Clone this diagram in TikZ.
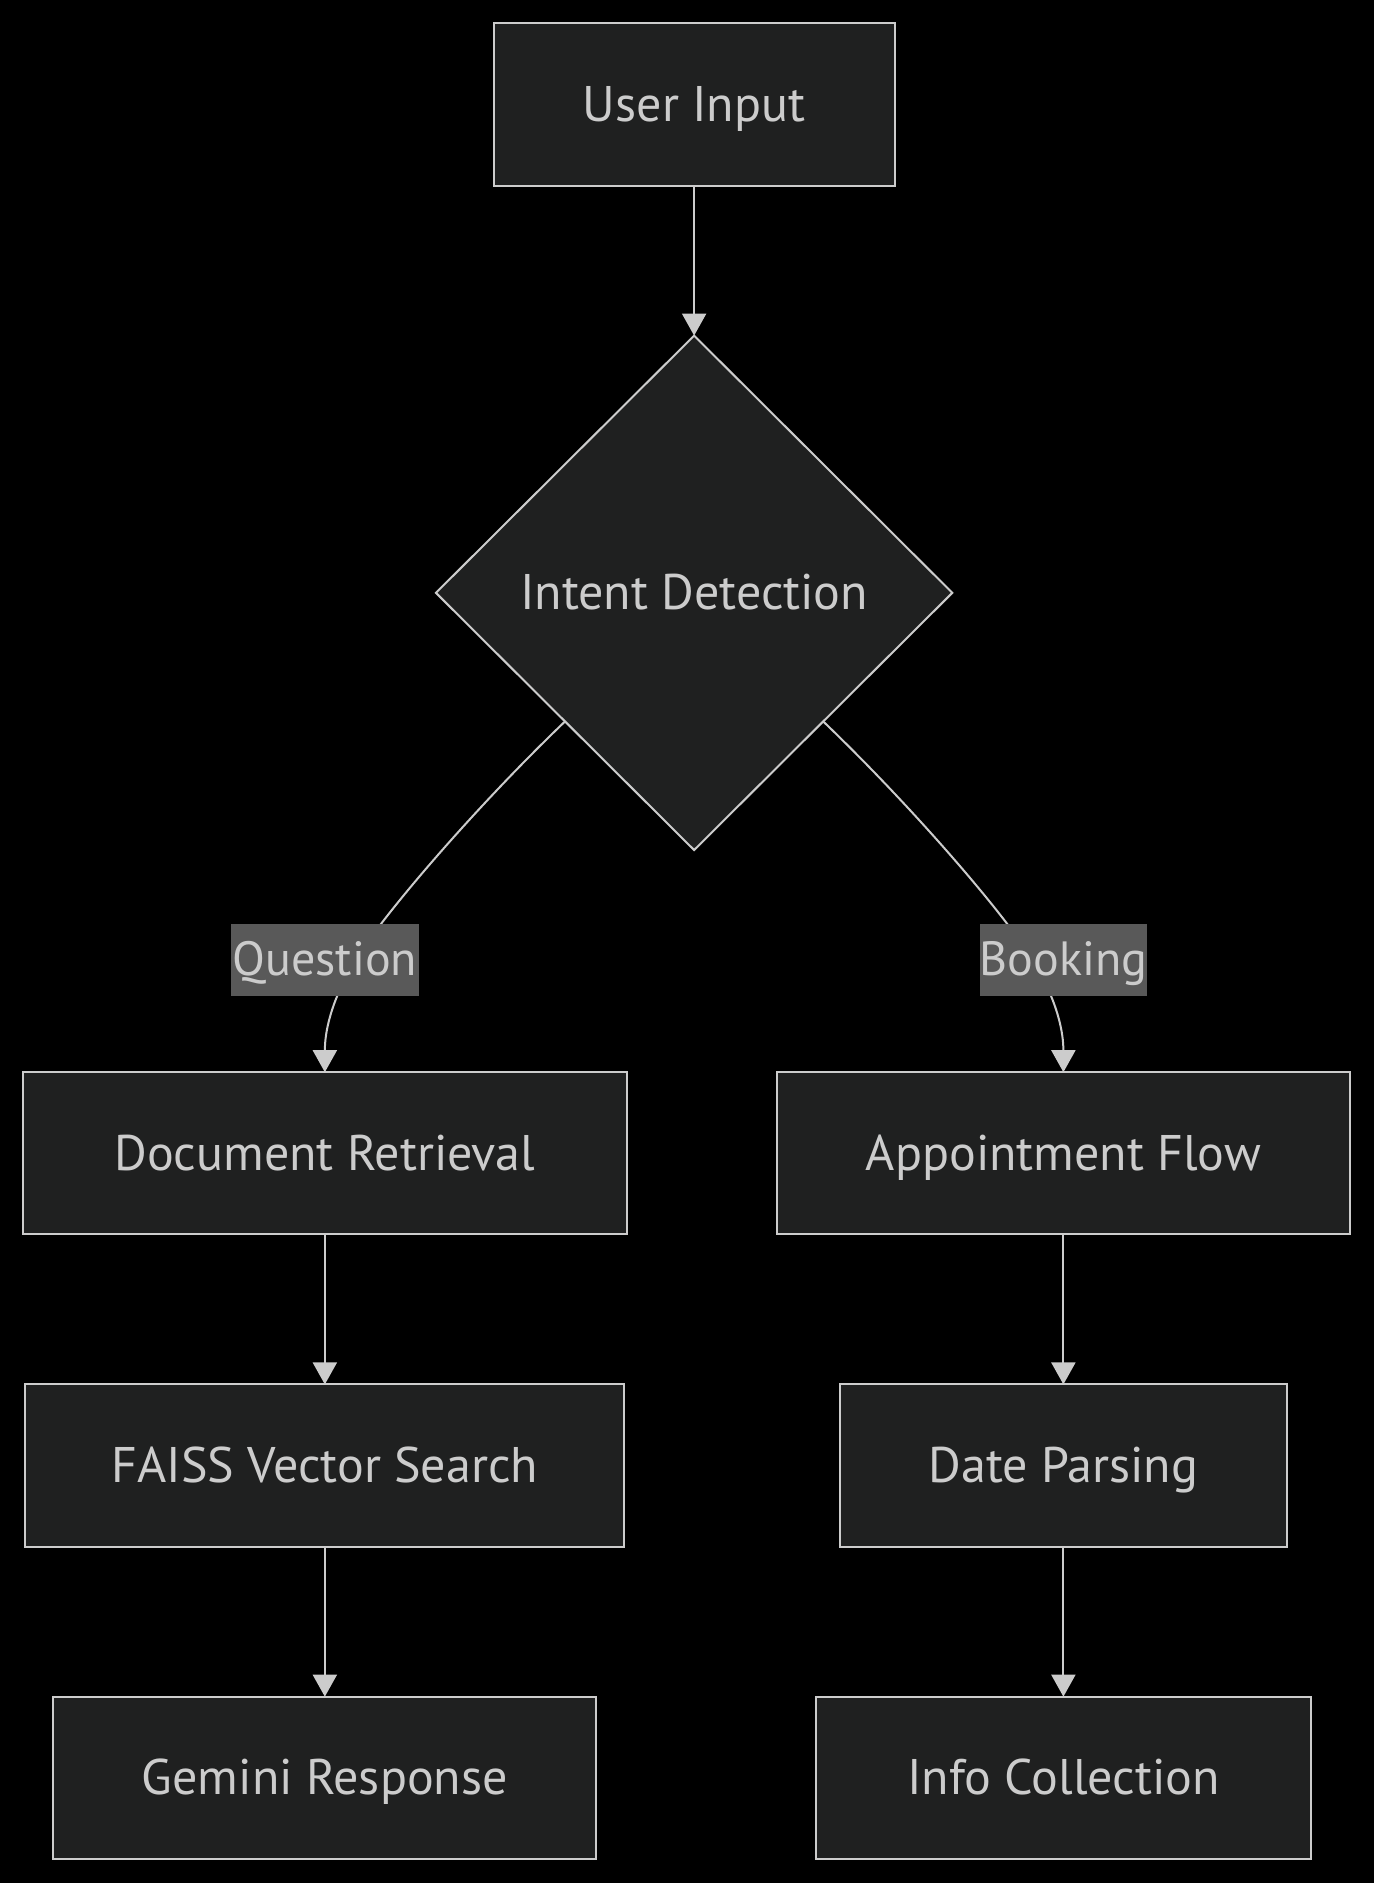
\documentclass[tikz,border=0pt]{standalone}
\usepackage{fontspec}
\setmainfont{PT Sans}
\usetikzlibrary{shapes.geometric, arrows.meta, positioning}
\definecolor{mfill}{HTML}{1F2020}
\definecolor{mline}{HTML}{CCCCCC}
\definecolor{mtext}{HTML}{CCCCCC}
\definecolor{mlabel}{HTML}{595959}
\tikzstyle{process} = [rectangle, minimum height = 81pt, inner sep = 0pt, outer sep = 0pt, text height = 17pt, text depth = 0pt, text = mtext, text centered, fill = mfill, draw = mline, line width = 1pt]
\tikzstyle{decision} = [diamond, minimum width = 258pt, minimum height = 257pt, inner sep = 0pt, outer sep = 0pt, text height = 17pt, text depth = 0pt, text = mtext, text centered, fill = mfill, draw = mline, line width = 1pt]
\tikzstyle{edgelabel} = [rectangle, minimum height = 36pt, inner sep = 0pt, text height = 15pt, text depth = 0pt, text = mtext, fill = mlabel, font = \fontsize{24}{28}\selectfont]
\tikzstyle{cable} = [line width = 1pt, draw = mline, ->, >={Triangle[length=11pt, width=12pt]}]

\begin{document}
\begin{tikzpicture}[x=0.6pt, y=-0.6pt, node distance = 75pt, font=\fontsize{25}{30}\selectfont]
  \fill [black, use as bounding box] (0,0) rectangle (1144,1568);
  \node (userin) [process, minimum width = 200.4pt] at (578,87) {User Input};
  \node (intent) [decision, below = of userin] {Intent Detection};
  \draw [cable] (userin) -- (intent);
  \node (docret) [process, minimum width = 301.8pt, below = 111pt of intent, xshift = -184.5pt] {Document Retrieval};
  \node (appt) [process, minimum width = 286.2pt, below = 111pt of intent, xshift = 184.5pt] {Appointment Flow};
  \node (faiss) [process, minimum width = 299.4pt, below = of docret] {FAISS Vector Search};
  \node (gemini) [process, minimum width = 271.2pt, below = of faiss] {Gemini Response};
  \node (datep) [process, minimum width = 223.2pt, below = of appt] {Date Parsing};
  \node (info) [process, minimum width = 247.2pt, below = of datep] {Info Collection};
  \draw [cable] (intent.south west) .. controls +(-71,68) and +(25,-41) .. (295,801) .. controls +(-20,34) and +(0,-33) .. (docret.north);
  \draw [cable] (intent.south east) .. controls +(71,68) and +(-25,-41) .. (861,801) .. controls +(20,34) and +(0,-33) .. (appt.north);
  \node (question) [edgelabel, minimum width = 93.6pt, above = 37.8pt of docret] {Question};
  \node (booking) [edgelabel, minimum width = 82.8pt, above = 37.8pt of appt] {Booking};
  \draw [cable] (docret) -- (faiss);
  \draw [cable] (faiss) -- (gemini);
  \draw [cable] (appt) -- (datep);
  \draw [cable] (datep) -- (info);
\end{tikzpicture}
\end{document}
